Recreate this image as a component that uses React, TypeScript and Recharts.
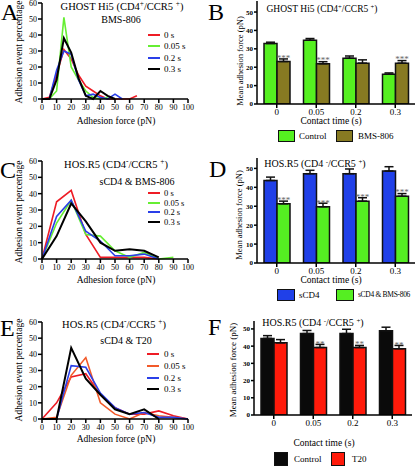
import React from 'react';
import { LineChart, Line, BarChart, Bar, XAxis, YAxis, ErrorBar, LabelList } from 'recharts';

const FONT = '"Liberation Serif", "Times New Roman", serif';

// shared axes
const forceTicks = [0, 10, 20, 30, 40, 50, 60, 70, 80, 90, 100];
const pctTicks = [0, 10, 20, 30, 40, 50, 60];
const meanTicks = [0, 10, 20, 30, 40, 50];
const contactTimes = ['0', '0.05', '0.2', '0.3'];
const timeLegend = ['0 s', '0.05 s', '0.2 s', '0.3 s'];

// A: GHOST Hi5, BMS-806 (5 pN bins)
const forceA = [0, 5, 10, 15, 20, 25, 30, 35, 40, 45, 50, 55, 60, 65];
const a0 = [0, 1, 15, 31, 25, 15, 8, 5, 2, 0, 0, 0, 0, 2];
const a005 = [0, 0, 5, 51, 20, 12, 5, 1, 0, 1];
const a02 = [0, 0, 18, 30, 28, 12, 2, 3, 1, 0, 3, 0];
const a03 = [0, 0, 12, 38, 29, 13, 2, 0, 5, 2, 0];

// C: HOS.R5, sCD4 & BMS-806
const forceC = [0, 10, 20, 30, 40, 50, 60, 70, 80, 90];
const c0 = [0, 35, 42, 15, 1, 1, 1, 1, 0];
const c005 = [0, 22, 36, 15, 14, 5, 1, 4, 0, 1];
const c02 = [0, 26, 36, 17, 11, 2, 2, 3, 0];
const c03 = [0, 14, 34, 23, 10, 5, 6, 5, 1];

// E: HOS.R5, sCD4 & T20
const forceE = [0, 10, 20, 30, 40, 50, 60, 70, 80, 90, 100];
const e0 = [0, 10, 26, 28, 15, 7, 3, 3, 5, 2, 0];
const e005 = [0, 1, 27, 38, 10, 3, 0, 4, 2, 1, 0];
const e02 = [0, 0, 33, 32, 16, 7, 3, 4, 1, 1, 0];
const e03 = [0, 0, 44, 25, 15, 6, 3, 6, 0];

// B: mean force, Control vs BMS-806
const bControl = [32.9, 34.7, 24.9, 16.2];
const bControlErr = [0.7, 0.9, 1.2, 0.7];
const bBms = [23.1, 21.9, 22.2, 22.2];
const bBmsErr = [1.4, 1.1, 1.8, 1.4];
const bStars = ['***', '***', '', '***'];

// D: sCD4 vs sCD4 & BMS-806
const dSCD4 = [43.6, 47.2, 47.2, 48.6];
const dSCD4Err = [1.8, 1.8, 2.5, 2.3];
const dBms = [31.3, 29.7, 32.7, 35.3];
const dBmsErr = [1.4, 1.9, 1.8, 1.4];
const dStars = ['***', '***', '***', '***'];

// F: Control vs T20
const fControl = [44.5, 47.3, 47.3, 48.9];
const fControlErr = [1.6, 1.8, 2.5, 2.1];
const fT20 = [41.9, 39.2, 39.2, 38.5];
const fT20Err = [1.9, 1.8, 1.2, 1.9];
const fStars = ['', '**', '**', '**'];

const lineColors = ['#ee1c25', '#66ee33', '#2a3fe8', '#000000'];
const lineColorsE = ['#ee1c25', '#f25a2a', '#2a3fe8', '#000000'];

function histRows(force: number[], series: number[][]) {
  return force.map((f, i) => ({
    force: f,
    s0: series[0][i] ?? null,
    s1: series[1][i] ?? null,
    s2: series[2][i] ?? null,
    s3: series[3][i] ?? null,
  }));
}

function meanRows(a: number[], aErr: number[], b: number[], bErr: number[], stars: string[]) {
  return contactTimes.map((t, i) => ({
    time: t,
    a: a[i],
    aErr: [0, aErr[i]],
    b: b[i],
    bErr: [0, bErr[i]],
    stars: stars[i],
  }));
}

const axisLine = { stroke: '#000', strokeWidth: 1.5 };

function Txt({ x, y, size = 10, anchor = 'middle', rotate = false, color = '#000', spacing = 0, children }: any) {
  const tx = anchor === 'middle' ? '-50%' : anchor === 'end' ? '-100%' : '0';
  return (
    <div
      style={{
        position: 'absolute',
        left: x,
        top: y,
        fontSize: size,
        lineHeight: 1,
        letterSpacing: spacing,
        whiteSpace: 'nowrap',
        color,
        transform: `translate(${tx}, -50%)${rotate ? ' rotate(-90deg)' : ''}`,
      }}
    >
      {children}
    </div>
  );
}

const Sup = ({ children }: any) => (
  <span style={{ fontSize: '0.7em', position: 'relative', top: '-0.5em' }}>{children}</span>
);

function HistPanel({ top, height, marginTop, rows, colors }: any) {
  return (
    <div style={{ position: 'absolute', left: 0, top }}>
      <LineChart width={198} height={height} data={rows} margin={{ top: marginTop, right: 10, bottom: 0, left: 0 }}>
        <XAxis
          type="number"
          dataKey="force"
          domain={[0, 100]}
          ticks={forceTicks}
          interval={0}
          height={16}
          tickSize={4}
          tickMargin={1}
          axisLine={axisLine}
          tickLine={axisLine}
          tick={{ fontSize: 8, fill: '#000', fontFamily: FONT }}
        />
        <YAxis
          type="number"
          domain={[0, 60]}
          ticks={pctTicks}
          interval={0}
          width={42}
          tickSize={4}
          tickMargin={1}
          axisLine={axisLine}
          tickLine={axisLine}
          tick={{ fontSize: 8, fill: '#000', fontFamily: FONT }}
        />
        {['s0', 's1', 's2', 's3'].map((k, i) => (
          <Line
            key={k}
            type="linear"
            dataKey={k}
            stroke={colors[i]}
            strokeWidth={i === 3 ? 2 : 1.6}
            dot={false}
            isAnimationActive={false}
          />
        ))}
      </LineChart>
    </div>
  );
}

function MeanPanel({ top, height, marginTop, yWidth, marginRight, yMax, rows, colors }: any) {
  return (
    <div style={{ position: 'absolute', left: 208, top }}>
      <BarChart
        width={208}
        height={height}
        data={rows}
        margin={{ top: marginTop, right: marginRight, bottom: 0, left: 0 }}
        barGap={0}
        barSize={13}
      >
        <XAxis
          dataKey="time"
          height={14}
          interval={0}
          tickSize={4}
          tickMargin={1}
          axisLine={axisLine}
          tickLine={axisLine}
          tick={{ fontSize: 9, fill: '#000', fontFamily: FONT }}
        />
        <YAxis
          type="number"
          domain={[0, yMax]}
          ticks={meanTicks}
          interval={0}
          allowDataOverflow
          width={yWidth}
          tickSize={3}
          tickMargin={1}
          axisLine={axisLine}
          tickLine={axisLine}
          tick={{ fontSize: 7, fontWeight: 'bold', fill: '#000', fontFamily: FONT }}
        />
        <Bar dataKey="a" fill={colors[0]} stroke="#111" strokeWidth={1.5} isAnimationActive={false}>
          <ErrorBar dataKey="aErr" direction="y" width={4.5} stroke="#111" strokeWidth={1.5} isAnimationActive={false} />
        </Bar>
        <Bar dataKey="b" fill={colors[1]} stroke="#111" strokeWidth={1.5} isAnimationActive={false}>
          <ErrorBar dataKey="bErr" direction="y" width={4.5} stroke="#111" strokeWidth={1.5} isAnimationActive={false} />
          <LabelList dataKey="stars" position="top" offset={1} fill="#666" fontSize={9} fontFamily={FONT} />
        </Bar>
      </BarChart>
    </div>
  );
}

function LineLegend({ ys, colors, lineLeft = 148, size = 9 }: any) {
  return (
    <>
      {timeLegend.map((lab, i) => (
        <React.Fragment key={lab}>
          <div
            style={{
              position: 'absolute',
              left: lineLeft,
              top: ys[i] - 1,
              width: 12,
              height: 2,
              background: colors[i],
            }}
          />
          <Txt x={164} y={ys[i]} size={size} anchor="start">
            {lab}
          </Txt>
        </React.Fragment>
      ))}
    </>
  );
}

function BoxKey({ x, y, w, h, fill, label, labelX, size = 9, spacing = 0 }: any) {
  return (
    <>
      <div
        style={{
          position: 'absolute',
          left: x,
          top: y,
          width: w,
          height: h,
          boxSizing: 'border-box',
          border: '1.5px solid #111',
          background: fill,
        }}
      />
      <Txt x={labelX} y={y + h / 2} size={size} anchor="start" spacing={spacing}>
        {label}
      </Txt>
    </>
  );
}

export default function App() {
  const rowsA = histRows(forceA, [a0, a005, a02, a03]);
  const rowsC = histRows(forceC, [c0, c005, c02, c03]);
  const rowsE = histRows(forceE, [e0, e005, e02, e03]);
  const rowsB = meanRows(bControl, bControlErr, bBms, bBmsErr, bStars);
  const rowsD = meanRows(dSCD4, dSCD4Err, dBms, dBmsErr, dStars);
  const rowsF = meanRows(fControl, fControlErr, fT20, fT20Err, fStars);

  const letter = (ch: string, x: number, y: number) => (
    <div style={{ position: 'absolute', left: x, top: y, fontSize: 24, lineHeight: 1 }}>{ch}</div>
  );

  return (
    <div
      style={{
        position: 'absolute',
        left: 0,
        top: 0,
        width: 416,
        height: 466,
        overflow: 'hidden',
        background: '#fff',
        fontFamily: FONT,
        color: '#000',
      }}
    >
      {/* A */}
      <HistPanel top={0} height={115} marginTop={3} rows={rowsA} colors={lineColors} />
      {letter('A', 1, 0)}
      <Txt x={122} y={7} size={10.5}>
        GHOST Hi5 (CD4<Sup>+</Sup>/CCR5 <Sup>+</Sup>)
      </Txt>
      <Txt x={121} y={20} size={10}>BMS-806</Txt>
      <LineLegend ys={[35, 46, 58, 69]} colors={lineColors} />
      <Txt x={116} y={122} size={9.5}>Adhesion force (pN)</Txt>
      <Txt x={20} y={52} size={9.5} rotate>Adhesion event percentage</Txt>

      {/* B */}
      <MeanPanel top={0} height={118} marginTop={1} yWidth={49} marginRight={1} yMax={56} rows={rowsB} colors={['#55f020', '#877a22']} />
      {letter('B', 208, 0)}
      <Txt x={322} y={10} size={9.5}>
        GHOST Hi5 (CD4<Sup>+</Sup>/CCR5 <Sup>+</Sup>)
      </Txt>
      <Txt x={240} y={61} size={8.5} rotate>Mean adhesion force (pN)</Txt>
      <Txt x={331} y={122} size={9.5}>Contact time (s)</Txt>
      <BoxKey x={278} y={130} w={17} h={12} fill="#55f020" label="Control" labelX={299} />
      <BoxKey x={336} y={130} w={17} h={12} fill="#877a22" label="BMS-806" labelX={358} />

      {/* C */}
      <HistPanel top={150} height={125} marginTop={11} rows={rowsC} colors={lineColors} />
      {letter('C', 0, 158)}
      <Txt x={116} y={165} size={10.5}>
        HOS.R5 (CD4<Sup>-</Sup>/CCR5 <Sup>+</Sup>)
      </Txt>
      <Txt x={137} y={182} size={10}>sCD4 &amp; BMS-806</Txt>
      <LineLegend ys={[193, 202.5, 212, 221.5]} colors={lineColors} size={8.5} />
      <Txt x={116} y={281} size={9.5}>Adhesion force (pN)</Txt>
      <Txt x={20} y={212} size={9.5} rotate>Adhesion event percentage</Txt>

      {/* D */}
      <MeanPanel top={155} height={122} marginTop={3} yWidth={49} marginRight={1} yMax={55.5} rows={rowsD} colors={['#2040e8', '#55ee22']} />
      {letter('D', 209, 157)}
      <Txt x={315} y={164} size={10}>
        HOS.R5 (CD4 <Sup>-</Sup>/CCR5 <Sup>+</Sup>)
      </Txt>
      <Txt x={239} y={215} size={8.5} rotate>Mean adhesion force (pN)</Txt>
      <Txt x={331} y={281} size={9.5}>Contact time (s)</Txt>
      <BoxKey x={277} y={289} w={18} h={12} fill="#2040e8" label="sCD4" labelX={299} />
      <BoxKey x={336} y={289} w={18} h={12} fill="#55ee22" label="sCD4 & BMS-806" labelX={358} size={7.5} spacing={-0.3} />

      {/* E */}
      <HistPanel top={308} height={127} marginTop={14} rows={rowsE} colors={lineColorsE} />
      {letter('E', 0, 316)}
      <Txt x={114} y={325} size={10.5}>
        HOS.R5 (CD4<Sup>-</Sup>/CCR5 <Sup>+</Sup>)
      </Txt>
      <Txt x={126} y={341} size={10}>sCD4 &amp; T20</Txt>
      <LineLegend ys={[354, 366, 378, 389]} colors={lineColorsE} lineLeft={147} />
      <Txt x={116} y={440} size={9.5}>Adhesion force (pN)</Txt>
      <Txt x={20} y={370} size={9.5} rotate>Adhesion event percentage</Txt>

      {/* F */}
      <MeanPanel top={315} height={114} marginTop={6} yWidth={46} marginRight={4} yMax={54.6} rows={rowsF} colors={['#0a0a0a', '#ff1a0a']} />
      {letter('F', 208, 315)}
      <Txt x={313} y={323} size={10}>
        HOS.R5 (CD4 <Sup>-</Sup>/CCR5 <Sup>+</Sup>)
      </Txt>
      <Txt x={233} y={370} size={9} rotate>Mean adhesion force (pN)</Txt>
      <Txt x={324} y={444} size={9.5}>Contact time (s)</Txt>
      <BoxKey x={274} y={452} w={14} h={14} fill="#0a0a0a" label="Control" labelX={294} />
      <BoxKey x={331} y={452} w={14} h={14} fill="#ff1a0a" label="T20" labelX={352} />
    </div>
  );
}
